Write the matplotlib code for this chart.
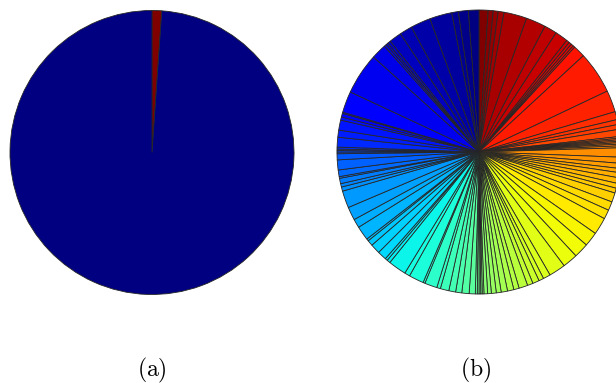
import numpy as np
import matplotlib
matplotlib.use("Agg")
import matplotlib.pyplot as plt

plt.rcParams['mathtext.fontset'] = 'cm'

# (a): share of the two classes, in percent
shares_a = [1.1, 98.9]

# (b): slice boundaries in degrees, clockwise from the top
bounds_b = [0, 3.7, 5.8, 7.8, 10.2, 19.6, 27.7, 32.9, 38.2, 39.5, 40.6, 41.6,
            42.4, 47.3, 64.6, 73.5, 76.8, 78.8, 80.8, 83.7, 84.4, 85.0, 85.6,
            86.2, 86.8, 87.5, 88.3,
            92.1, 94.6, 96.7, 98.4, 100.5, 102.8, 104.8, 106.8, 110.6, 114.2,
            118, 125, 130.9, 137, 143.2, 150,
            153, 155, 157.7, 160, 163.6, 165.8, 168.4, 171, 173, 175, 176.5,
            178, 178.7, 179.3, 180, 180.7,
            181.5, 184, 187, 189.5, 192.3, 195.8, 197.3, 202.4, 203.2, 209.3,
            211.5, 218.9, 220.3, 221.3, 225,
            229, 231.3, 232.2, 238, 241.6, 247, 254, 255.7, 257.1, 259.3, 260,
            262.7, 266.8, 269.3, 270, 270.6, 271.2, 272, 276, 278.9, 283,
            284.3, 285.8, 286.3, 295,
            312, 318.2, 319.2, 320.1, 321.3, 326.4, 331.6, 339.8, 348.9, 351.6,
            355.7, 360]
sizes_b = np.diff(bounds_b)

labels = ['(a)', '(b)']

W, H = 616, 383
fig = plt.figure(figsize=(W / 100, H / 100), dpi=100)

wp = dict(edgecolor='#262626', linewidth=0.6)

def pie_axes(cx, cy, r):
    # axes box in pixels -> figure fraction, centred on (cx, cy) from top-left
    ax = fig.add_axes([(cx - r) / W, (H - cy - r) / H, 2 * r / W, 2 * r / H])
    return ax

ax1 = pie_axes(152, 152.5, 142)
cols_a = plt.cm.jet([1.0, 0.0])
ax1.pie(shares_a, colors=cols_a, startangle=90, counterclock=False,
        radius=1, wedgeprops=wp, frame=True)
ax1.set_xlim(-1, 1)
ax1.set_ylim(-1, 1)
ax1.set_axis_off()

ax2 = pie_axes(479, 152, 142)
cols_b = plt.cm.jet(np.linspace(1, 0, len(sizes_b)))
ax2.pie(sizes_b, colors=cols_b, startangle=90, counterclock=False,
        radius=1, wedgeprops=wp, frame=True)
ax2.set_xlim(-1, 1)
ax2.set_ylim(-1, 1)
ax2.set_axis_off()

for x, lab in zip([152, 476], labels):
    fig.text(x / W, 1 - 370 / H, r'$\mathrm{' + lab + '}$', fontsize=17,
             ha='center', va='center')

fig.savefig('out.png', dpi=100)
